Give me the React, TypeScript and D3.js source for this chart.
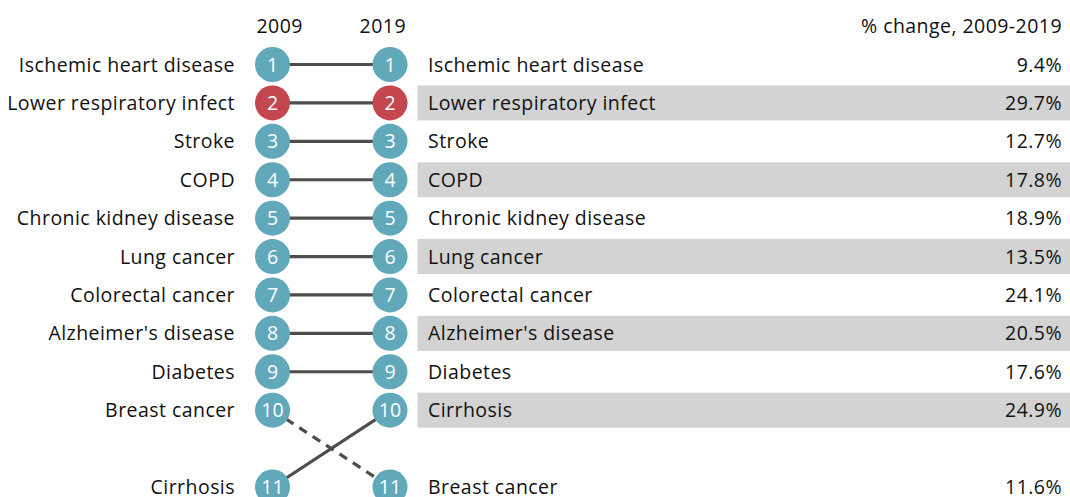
import React from "react";
import * as d3 from "d3";

const causes2009 = [
  "Ischemic heart disease",
  "Lower respiratory infect",
  "Stroke",
  "COPD",
  "Chronic kidney disease",
  "Lung cancer",
  "Colorectal cancer",
  "Alzheimer's disease",
  "Diabetes",
  "Breast cancer",
  "Cirrhosis",
];
const causes2019 = [
  "Ischemic heart disease",
  "Lower respiratory infect",
  "Stroke",
  "COPD",
  "Chronic kidney disease",
  "Lung cancer",
  "Colorectal cancer",
  "Alzheimer's disease",
  "Diabetes",
  "Cirrhosis",
  "Breast cancer",
];
const pctChange2019 = [9.4, 29.7, 12.7, 17.8, 18.9, 13.5, 24.1, 20.5, 17.6, 24.9, 11.6];
const highlighted = ["Lower respiratory infect"];
const declined = ["Breast cancer"];
const years = ["2009", "2019"];

const W = 1070;
const H = 497;
const FONT = "'Open Sans', sans-serif";
const FS = 19.5;
const LS = 0.45;
const DY = 7;

export default function App() {
  const slotIndex = (rank: number) => (rank <= 10 ? rank - 1 : rank);
  const y = d3.scaleLinear().domain([0, 11]).range([64.5, 487]);
  const x = d3.scalePoint<string>().domain(years).range([272.5, 390]);
  const teal = "#62a8bb";
  const red = "#c4474f";
  const r = 17.5;
  const colorOf = (name: string) => (highlighted.includes(name) ? red : teal);
  const txt = { fontSize: FS, letterSpacing: LS, fill: "#111" } as const;

  return (
    <svg width={W} height={H} style={{ position: "absolute", left: 0, top: 0, fontFamily: FONT }}>
      <text x={x("2009")! - 16} y={33} textAnchor="start" {...txt}>
        {years[0]}
      </text>
      <text x={x("2019")! + 16} y={33} textAnchor="end" {...txt}>
        {years[1]}
      </text>
      <text x={1062} y={33} textAnchor="end" {...txt}>
        % change, 2009-2019
      </text>

      {causes2019.map((c, i) =>
        i % 2 === 1 ? (
          <rect key={"b" + c} x={417.5} y={y(slotIndex(i + 1)) - 17.5} width={W - 417.5} height={35} fill="#d3d3d3" />
        ) : null
      )}

      {causes2009.map((c, i) => {
        const r19 = causes2019.indexOf(c) + 1;
        const y1 = y(slotIndex(i + 1));
        const y2 = y(slotIndex(r19));
        return (
          <line
            key={"l" + c}
            x1={x("2009")}
            y1={y1}
            x2={x("2019")}
            y2={y2}
            stroke="#4d4d4d"
            strokeWidth={3.2}
            strokeDasharray={declined.includes(c) ? "9,7" : undefined}
          />
        );
      })}

      {causes2009.map((c, i) => {
        const yy = y(slotIndex(i + 1));
        return (
          <g key={"left" + c}>
            <text x={235} y={yy + DY} textAnchor="end" {...txt}>
              {c}
            </text>
            <circle cx={x("2009")} cy={yy} r={r} fill={colorOf(c)} />
            <text x={x("2009")} y={yy + DY} textAnchor="middle" fontSize={FS} fill="#fff">
              {i + 1}
            </text>
          </g>
        );
      })}

      {causes2019.map((c, i) => {
        const yy = y(slotIndex(i + 1));
        return (
          <g key={"right" + c}>
            <circle cx={x("2019")} cy={yy} r={r} fill={colorOf(c)} />
            <text x={x("2019")} y={yy + DY} textAnchor="middle" fontSize={FS} fill="#fff">
              {i + 1}
            </text>
            <text x={428} y={yy + DY} textAnchor="start" {...txt}>
              {c}
            </text>
            <text x={1062} y={yy + DY} textAnchor="end" {...txt}>
              {pctChange2019[i].toFixed(1) + "%"}
            </text>
          </g>
        );
      })}
    </svg>
  );
}
